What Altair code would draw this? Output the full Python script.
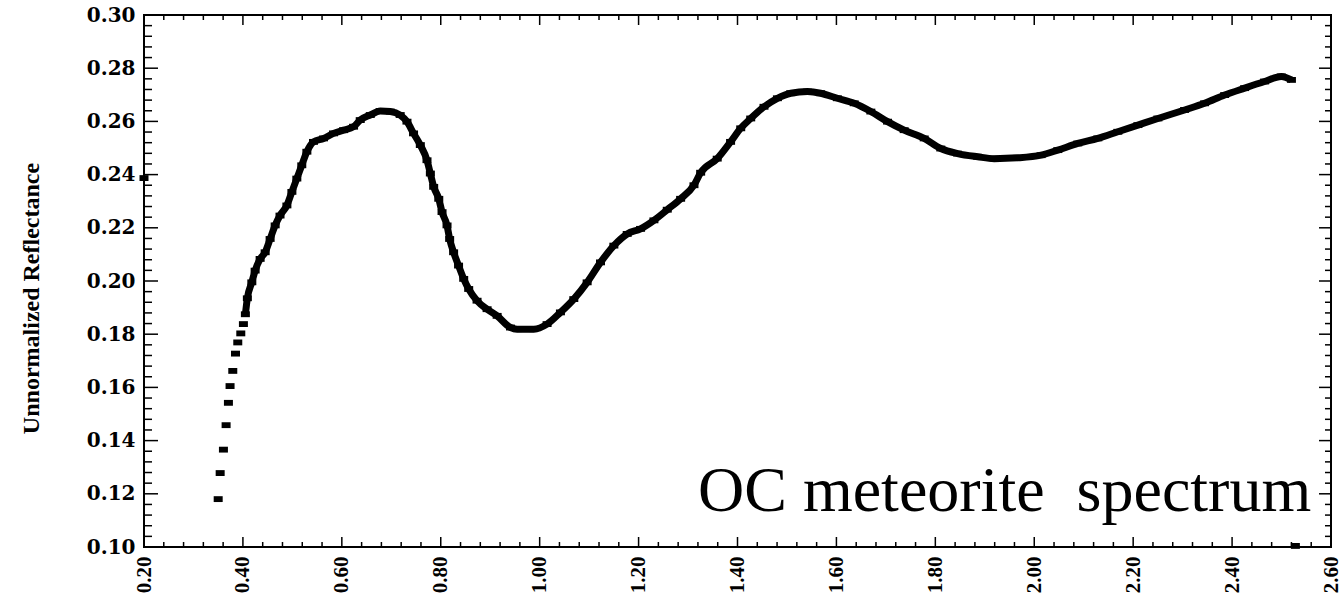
import altair as alt
import pandas as pd

# Spectrum readings (wavelength in microns, unnormalized reflectance)
wavelength = [
    0.350, 0.354, 0.3606, 0.366, 0.3707, 0.374, 0.3795, 0.385, 0.3896, 0.3957,
    0.401, 0.405, 0.409, 0.418, 0.4247, 0.4348, 0.445, 0.455, 0.4652, 0.475,
    0.4889, 0.499, 0.509, 0.519, 0.5293, 0.5427, 0.563, 0.5832, 0.6035, 0.6237,
    0.6372, 0.6575, 0.6777, 0.698, 0.718, 0.7317, 0.745, 0.7587, 0.7722, 0.779,
    0.7857, 0.796, 0.8026, 0.8127, 0.818, 0.826, 0.836, 0.8464, 0.8565, 0.8734,
    0.8937, 0.914, 0.941, 0.9544, 0.988, 1.015, 1.042, 1.069, 1.096, 1.123,
    1.150, 1.177, 1.204, 1.231, 1.258, 1.285, 1.312, 1.3255, 1.359, 1.386,
    1.4065, 1.4267, 1.4536, 1.4807, 1.5077, 1.5414, 1.568, 1.602, 1.636, 1.6696,
    1.7034, 1.737, 1.7775, 1.811, 1.845, 1.8856, 1.919, 1.9666, 2.0138, 2.0476,
    2.088, 2.1285, 2.169, 2.2095, 2.25, 2.304, 2.3444, 2.385, 2.4253, 2.4658,
    2.4996, 2.52,
]
reflectance = [
    0.118, 0.1278, 0.1366, 0.1458, 0.1542, 0.1605, 0.1662, 0.1727, 0.1769, 0.1803,
    0.1838, 0.1875, 0.1935, 0.1995, 0.2039, 0.2083, 0.2108, 0.2158, 0.2209, 0.2246,
    0.2284, 0.2335, 0.2385, 0.2435, 0.2486, 0.2523, 0.2536, 0.2555, 0.2567, 0.258,
    0.2605, 0.2624, 0.2639, 0.2637, 0.2624, 0.2599, 0.2555, 0.2511, 0.2454, 0.2404,
    0.2354, 0.2309, 0.2259, 0.2209, 0.2158, 0.2108, 0.2058, 0.2008, 0.197, 0.1926,
    0.1894, 0.1869, 0.1825, 0.1819, 0.1819, 0.1838, 0.1882, 0.1932, 0.1995, 0.207,
    0.2133, 0.2177, 0.2196, 0.2228, 0.2268, 0.2309, 0.236, 0.2407, 0.246, 0.2523,
    0.2574, 0.2611, 0.2655, 0.2687, 0.2706, 0.2712, 0.2706, 0.2687, 0.2668, 0.2637,
    0.2599, 0.2567, 0.2536, 0.2498, 0.2479, 0.2467, 0.246, 0.2463, 0.2473, 0.2492,
    0.2517, 0.2536, 0.2561, 0.2586, 0.2611, 0.2643, 0.2668, 0.2699, 0.2725, 0.275,
    0.2769, 0.2756,
]
# stray points
outlier_x = [0.20, 2.528]
outlier_y = [0.2387, 0.1004]

x_major = [0.20, 0.40, 0.60, 0.80, 1.00, 1.20, 1.40, 1.60, 1.80, 2.00, 2.20, 2.40, 2.60]
y_major = [0.10, 0.12, 0.14, 0.16, 0.18, 0.20, 0.22, 0.24, 0.26, 0.28, 0.30]
x_minor = [round(0.2 + 0.04 * i, 2) for i in range(61) if i % 5]
y_minor = [round(0.1 + 0.004 * i, 3) for i in range(51) if i % 5]

annotation = "OC meteorite \u00a0spectrum"
y_title = "Unnormalized Reflectance"

W, H = 1187, 532

xs = alt.Scale(domain=[0.2, 2.6], nice=False, zero=False)
ys = alt.Scale(domain=[0.1, 0.3], nice=False, zero=False)

xaxis = alt.Axis(
    values=x_major, format=".2f", labelAngle=-90, ticks=False, domain=False,
    grid=False, title=None, labelFont="Liberation Serif", labelFontWeight="bold",
    labelFontSize=21, labelColor="black", labelPadding=9, labelOverlap=False,
)
yaxis = alt.Axis(
    values=y_major, format=".2f", ticks=False, domain=False, grid=False,
    title=y_title, titleFont="Liberation Serif", titleFontWeight="bold",
    titleFontSize=24, titleColor="black", titleX=-113, titleY=283,
    titleAlign="center", titleBaseline="middle", titleAngle=-90,
    labelFont="DejaVu Serif", labelFontWeight="bold", labelFontSize=20,
    labelColor="black", labelPadding=9, labelOverlap=False,
)

curve = pd.DataFrame({"x": wavelength, "y": reflectance})
pts = pd.concat([curve, pd.DataFrame({"x": outlier_x, "y": outlier_y})], ignore_index=True)

line = alt.Chart(curve).transform_filter("datum.x >= 0.405").mark_line(
    color="black", strokeWidth=7, strokeJoin="round", interpolate="monotone"
).encode(
    x=alt.X("x:Q", scale=xs, axis=xaxis),
    y=alt.Y("y:Q", scale=ys, axis=yaxis),
)

points = alt.Chart(pts).mark_point(
    shape="M-1,-0.65L1,-0.65L1,0.65L-1,0.65Z", filled=True, size=81,
    color="black", opacity=1, strokeWidth=0,
).encode(
    x=alt.X("x:Q", scale=xs, axis=xaxis),
    y=alt.Y("y:Q", scale=ys, axis=yaxis),
)

ymaj = pd.DataFrame({"y": y_major})
ymin = pd.DataFrame({"y": y_minor})
xmaj = pd.DataFrame({"x": x_major})
xmin = pd.DataFrame({"x": x_minor})


def yticks(df, x0, x1):
    return alt.Chart(df).mark_rule(color="black", strokeWidth=1.5).encode(
        y=alt.Y("y:Q", scale=ys, axis=yaxis), x=alt.value(x0), x2=alt.value(x1)
    )


def xticks(df, y0, y1):
    return alt.Chart(df).mark_rule(color="black", strokeWidth=1.5).encode(
        x=alt.X("x:Q", scale=xs, axis=xaxis), y=alt.value(y0), y2=alt.value(y1)
    )


tick_layers = [
    yticks(ymaj, 0, 14), yticks(ymin, 0, 8),
    yticks(ymaj, W - 12, W), yticks(ymin, W - 6, W),
    xticks(xmaj, H - 10, H), xticks(xmin, H - 5, H),
    xticks(xmaj, 0, 10), xticks(xmin, 0, 5),
]

label = alt.Chart(pd.DataFrame({"t": [annotation]})).mark_text(
    font="Liberation Serif", fontSize=64, color="black", align="left",
    baseline="alphabetic",
).encode(text="t:N", x=alt.value(554), y=alt.value(496))

chart = alt.layer(line, points, *tick_layers, label).properties(
    width=W, height=H,
    autosize=alt.AutoSizeParams(type="none"),
    padding={"left": 144, "top": 15, "right": 10, "bottom": 54},
    background="white",
).configure_view(stroke="black", strokeWidth=2)

chart.save("out.html", embed_options={"renderer": "svg", "actions": False})
